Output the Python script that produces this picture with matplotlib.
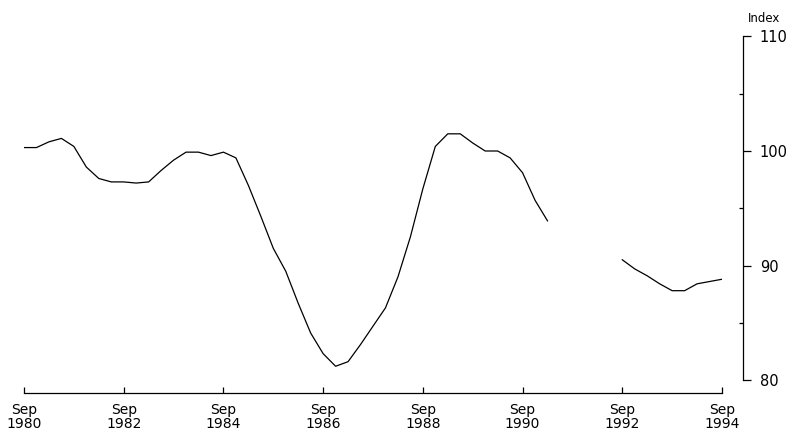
import numpy as np
import matplotlib
matplotlib.use("Agg")
import matplotlib.pyplot as plt
from matplotlib.ticker import FixedLocator

# Quarterly index, Sep 1980 to Sep 1994 (NaN where the line is missing)
start_year = 1980.75
index_values = [
    100.3, 100.3, 100.8, 101.1, 100.4, 98.6, 97.6, 97.3,
    97.3, 97.2, 97.3, 98.3, 99.2, 99.9, 99.9, 99.6,
    99.9, 99.4, 97.0, 94.3, 91.5, 89.5, 86.7, 84.1,
    82.3, 81.2, 81.6, 83.1, 84.7, 86.3, 89.0, 92.5,
    96.7, 100.4, 101.5, 101.5, 100.7, 100.0, 100.0, 99.4,
    98.1, 95.7, 93.9, np.nan, np.nan, np.nan, np.nan, np.nan,
    90.5, 89.7, 89.1, 88.4, 87.8, 87.8, 88.4, 88.6,
    88.8,
]
tick_years = [1980, 1982, 1984, 1986, 1988, 1990, 1992, 1994]
tick_labels = ["Sep\n%d" % y for y in tick_years]
y_ticks = [80, 90, 100, 110]
y_minor = [85, 95, 105]

dates = start_year + 0.25 * np.arange(len(index_values))

plt.rcParams['font.family'] = ['DejaVu Sans']

fig = plt.figure(figsize=(7.89, 4.38), dpi=100, facecolor='white')
ax = fig.add_axes([24 / 789, 1 - 380 / 438, (722 - 24) / 789, (380 - 36.5) / 438])

ax.plot(dates, index_values, color='black', linewidth=0.9)

ax.set_xlim(start_year, start_year + 14)
ax.set_ylim(80, 110)

# Spines: only bottom and right, pushed away from the data
for side in ['top', 'left']:
    ax.spines[side].set_visible(False)
ax.spines['bottom'].set_position(('outward', 9.4))
ax.spines['right'].set_position(('outward', 15.1))
ax.spines['bottom'].set_linewidth(0.9)
ax.spines['right'].set_linewidth(0.9)

# x ticks point up into the chart
ax.set_xticks([y + 0.75 for y in tick_years])
ax.set_xticklabels(tick_labels, fontsize=10, linespacing=1.05, fontweight='medium')
ax.tick_params(axis='x', direction='in', length=4, width=0.9, pad=7)

# y axis on the right
ax.yaxis.tick_right()
ax.yaxis.set_label_position('right')
ax.set_yticks(y_ticks)
ax.yaxis.set_minor_locator(FixedLocator(y_minor))
ax.tick_params(axis='y', which='major', direction='out', length=6, width=0.9,
               pad=6, labelsize=10.5)
ax.tick_params(axis='y', which='minor', direction='in', length=3, width=0.9)

fig.text(748 / 789, 1 - 18 / 438, "Index", fontsize=8.5, ha='left', va='center')

fig.savefig("out.png", dpi=100, facecolor='white')
